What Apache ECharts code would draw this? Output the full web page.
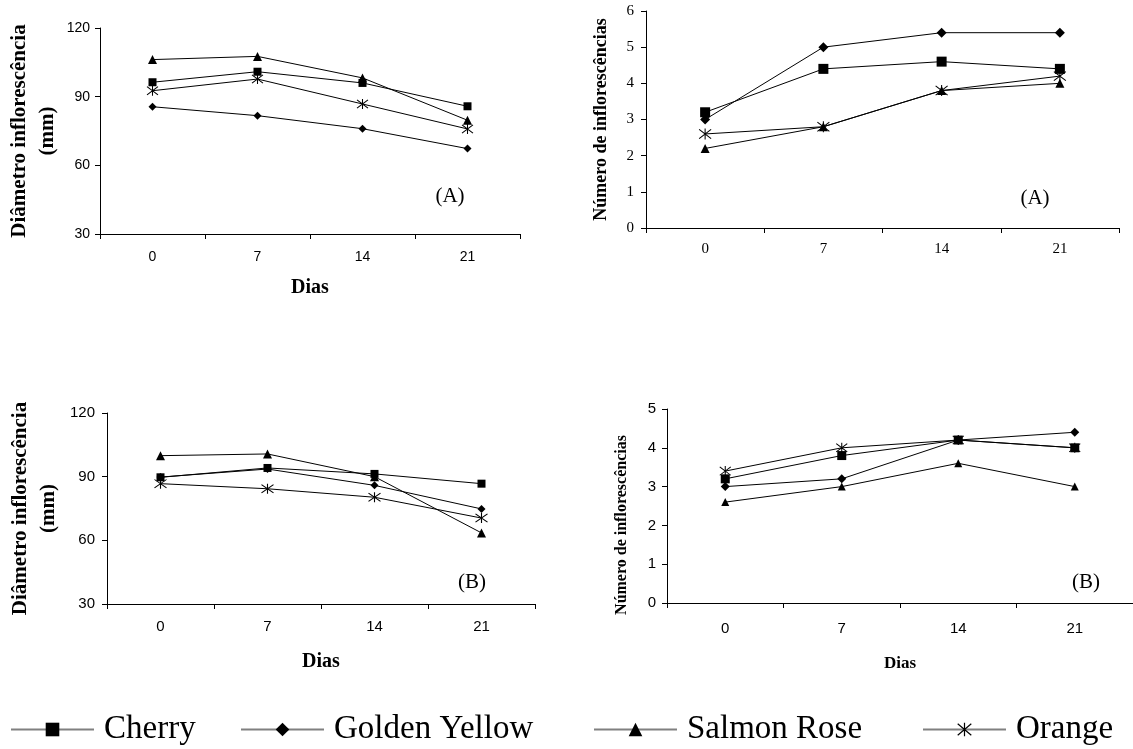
<!DOCTYPE html>
<html><head><meta charset="utf-8">
<script src="https://cdn.jsdelivr.net/npm/echarts@6/dist/echarts.min.js"></script>
<style>html,body{margin:0;padding:0;background:#fff}#c{width:1133px;height:749px}</style>
</head><body><div id="c"></div>
<script>
// ---- data ----
const categories = ['0', '7', '14', '21'];
const seriesNames = ['Cherry', 'Golden Yellow', 'Salmon Rose', 'Orange'];

// Panel (A) – diameter (mm)
const diamA_cherry = [96.3, 100.9, 96.0, 85.8];
const diamA_golden = [85.6, 81.7, 76.0, 67.3];
const diamA_salmon = [106.2, 107.6, 98.2, 79.7];
const diamA_orange = [92.6, 97.7, 86.8, 75.9];
// Panel (A) – number of inflorescences
const numA_cherry = [3.2, 4.4, 4.6, 4.4];
const numA_golden = [3.0, 5.0, 5.4, 5.4];
const numA_salmon = [2.2, 2.8, 3.8, 4.0];
const numA_orange = [2.6, 2.8, 3.8, 4.2];
// Panel (B) – diameter (mm)
const diamB_cherry = [89.7, 94.1, 91.3, 86.7];
const diamB_golden = [89.8, 93.6, 85.9, 74.8];
const diamB_salmon = [99.9, 100.7, 90.0, 63.5];
const diamB_orange = [86.7, 84.3, 80.3, 70.5];
// Panel (B) – number of inflorescences
const numB_cherry = [3.2, 3.8, 4.2, 4.0];
const numB_golden = [3.0, 3.2, 4.2, 4.4];
const numB_salmon = [2.6, 3.0, 3.6, 3.0];
const numB_orange = [3.4, 4.0, 4.2, 4.0];

// tick ranges
const diamTicks = [30, 60, 90, 120];
const numATicks = [0, 1, 2, 3, 4, 5, 6];
const numBTicks = [0, 1, 2, 3, 4, 5];

const panelLabels = ['(A)', '(A)', '(B)', '(B)'];
const xName = 'Dias';
const yNameDiam = 'Diâmetro inflorescência\n(mm)';
const yNameNum = 'Número de inflorescências';

// ---- styling ----
const SANS = 'Liberation Sans';
const SERIF = 'Liberation Serif';
const STAR = 'path://M0,0L12,10M12,0L0,10M6,-1L6,11';
const symbols = { 'Cherry': 'rect', 'Golden Yellow': 'diamond', 'Salmon Rose': 'triangle', 'Orange': STAR };

const panelData = [
  [diamA_cherry, diamA_golden, diamA_salmon, diamA_orange],
  [numA_cherry, numA_golden, numA_salmon, numA_orange],
  [diamB_cherry, diamB_golden, diamB_salmon, diamB_orange],
  [numB_cherry, numB_golden, numB_salmon, numB_orange]
];
const symbolSizes = [
  [8, 8, 9, [11, 10]],
  [10, 10, 9, [12, 11]],
  [8, 8, 9, [12, 10]],
  [9, 9, 8, [11, 10]]
];

const grids = [
  { left: 100, top: 28, width: 420, height: 206 },
  { left: 646, top: 11, width: 473, height: 217 },
  { left: 107, top: 413, width: 428, height: 191 },
  { left: 667, top: 409, width: 469, height: 194 }
];

const tickCfg = [diamTicks, numATicks, diamTicks, numBTicks];
const labelFonts = [
  { fam: SANS, size: 14, xm: 16, ym: 10 },
  { fam: SERIF, size: 15, xm: 14, ym: 12 },
  { fam: SANS, size: 15, xm: 15, ym: 12 },
  { fam: SANS, size: 15, xm: 18, ym: 11 }
];
const yNames = [yNameDiam, yNameNum, yNameDiam, yNameNum];
const yNameCfg = [
  { size: 21, lh: 28, gap: 38, pad: 0 },
  { size: 18, lh: 20, gap: 35, pad: 0 },
  { size: 21, lh: 28, gap: 44, pad: 0 },
  { size: 16, lh: 18, gap: 36, pad: 38 }
];
const xNameCfg = [
  { show: true, size: 20, gap: 44 },
  { show: false },
  { show: true, size: 20, gap: 48 },
  { show: true, size: 17, gap: 52 }
];

const xAxes = [], yAxes = [], series = [];
for (let p = 0; p < 4; p++) {
  const lf = labelFonts[p];
  const xn = xNameCfg[p];
  xAxes.push({
    type: 'category', gridIndex: p, data: categories, boundaryGap: true,
    axisLine: { lineStyle: { color: '#000', width: 1 } },
    axisTick: { show: true, length: 5, lineStyle: { color: '#000' } },
    axisLabel: { color: '#000', fontFamily: lf.fam, fontSize: lf.size, margin: lf.xm },
    splitLine: { show: false },
    name: xn.show ? xName : '', nameLocation: 'middle', nameGap: xn.gap || 0,
    nameTextStyle: { fontFamily: SERIF, fontWeight: 'bold', fontSize: xn.size || 12, color: '#000' }
  });
  const t = tickCfg[p];
  const yc = yNameCfg[p];
  yAxes.push({
    type: 'value', gridIndex: p, min: t[0], max: t[t.length - 1], interval: t[1] - t[0],
    axisLine: { show: true, lineStyle: { color: '#000', width: 1 } },
    axisTick: { show: true, length: 5, lineStyle: { color: '#000' } },
    axisLabel: { color: '#000', fontFamily: lf.fam, fontSize: lf.size, margin: lf.ym },
    splitLine: { show: false },
    name: yNames[p], nameLocation: 'middle', nameGap: yc.gap,
    nameTextStyle: {
      fontFamily: SERIF, fontWeight: 'bold', fontSize: yc.size, lineHeight: yc.lh, color: '#000',
      padding: [0, yc.pad, 0, 0]
    }
  });
  seriesNames.forEach((name, i) => {
    series.push({
      type: 'line', name: name, xAxisIndex: p, yAxisIndex: p,
      data: panelData[p][i],
      symbol: symbols[name], symbolSize: symbolSizes[p][i], showAllSymbol: true,
      lineStyle: { color: '#000', width: 1 },
      itemStyle: { color: '#000', borderColor: '#000', borderWidth: name === 'Orange' ? 1 : 0 },
      emphasis: { disabled: true },
      animation: false, silent: true, z: 2 + i
    });
  });
}

const labelPos = [[450, 196], [1035, 198], [472, 582], [1086, 582]];
const graphic = panelLabels.map((txt, i) => ({
  type: 'text', x: labelPos[i][0], y: labelPos[i][1], silent: true,
  style: { text: txt, fontFamily: SERIF, fontSize: 21, fill: '#000', align: 'center', verticalAlign: 'middle' }
}));

const legendLefts = [10, 240, 593, 922];
const legend = seriesNames.map((n, i) => ({
  data: [n], left: legendLefts[i], top: 713, orient: 'horizontal', padding: 0,
  itemWidth: 83, itemHeight: 17, selectedMode: false,
  textStyle: { fontFamily: SERIF, fontSize: 33, color: '#000', padding: [0, 0, 8, 5] },
  lineStyle: { color: '#808080', width: 2 },
  itemStyle: i === 3 ? { color: '#000', borderColor: '#000', borderWidth: 1.2 } : { color: '#000', borderWidth: 0 }
}));

const chart = echarts.init(document.getElementById('c'), null, { renderer: 'canvas' });
chart.setOption({
  backgroundColor: '#fff',
  animation: false,
  textStyle: { fontFamily: SANS },
  grid: grids,
  xAxis: xAxes,
  yAxis: yAxes,
  series: series,
  legend: legend,
  graphic: graphic
});
</script>
</body></html>
